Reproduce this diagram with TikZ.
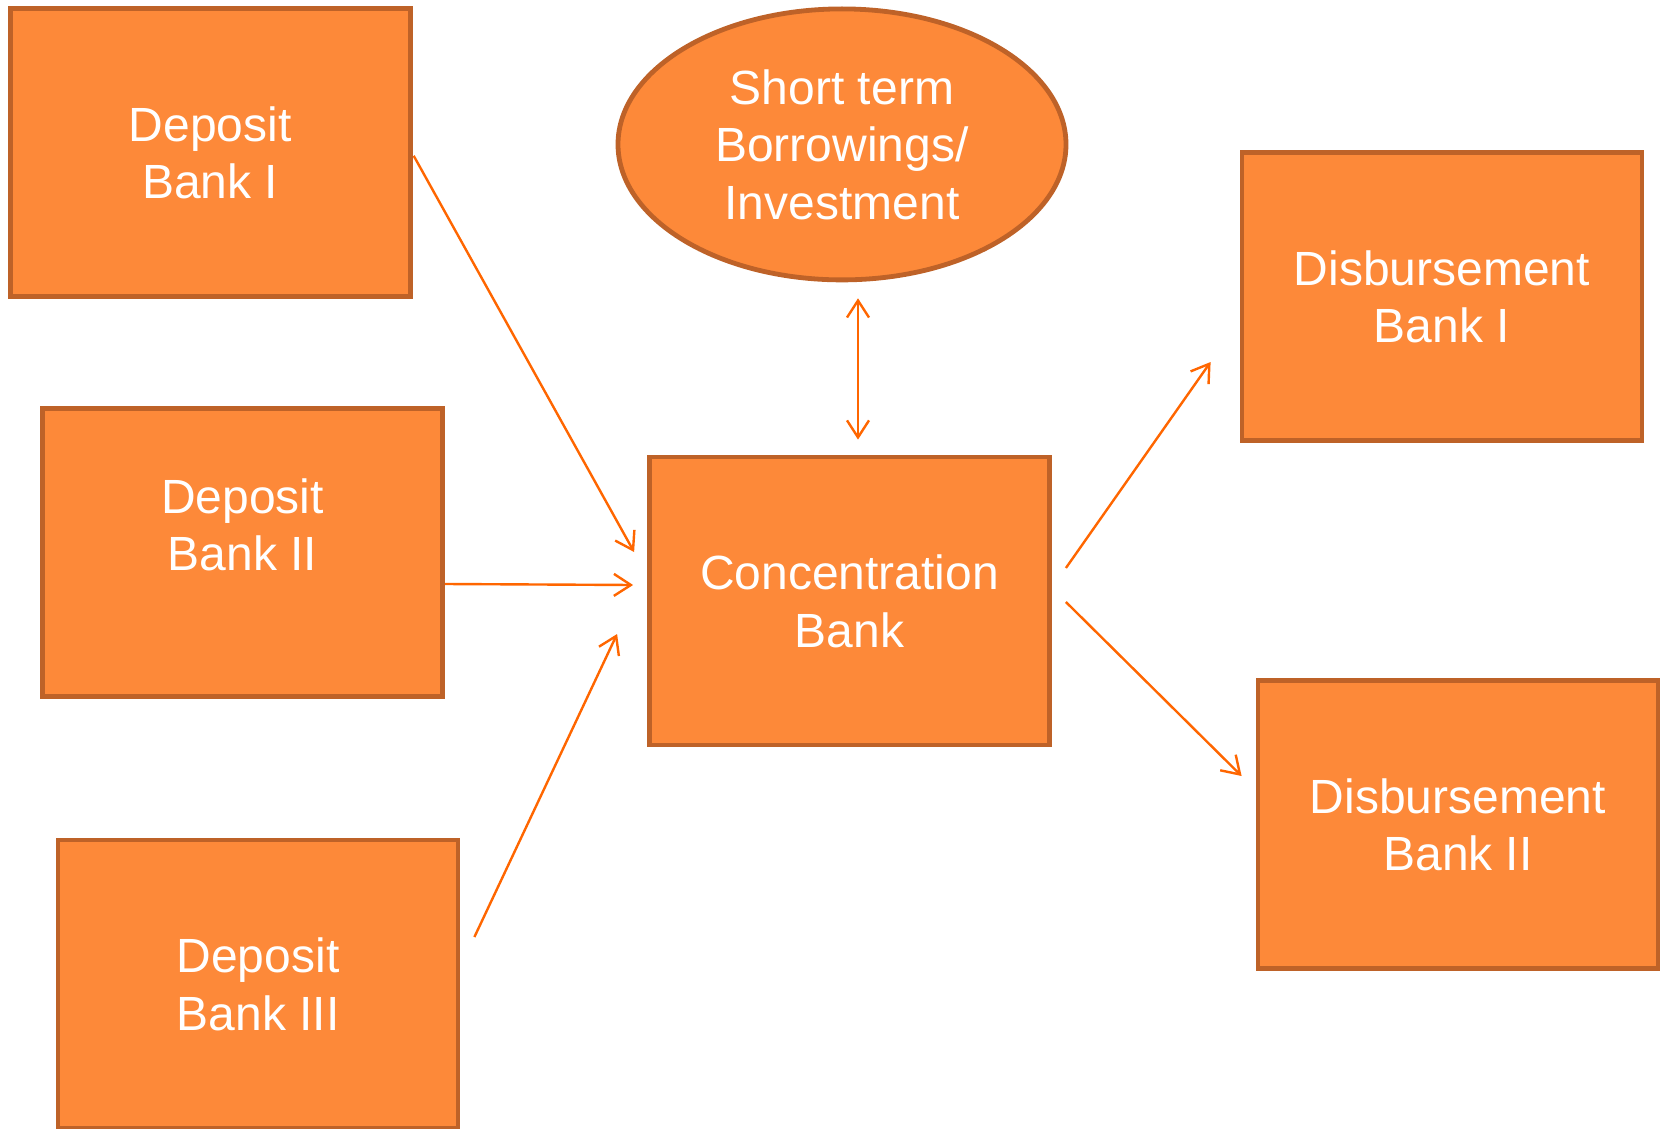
\documentclass[tikz,border=0pt]{standalone}
\usepackage{fontspec}
\setmainfont{Liberation Sans}
\usetikzlibrary{shapes.geometric,arrows.meta,calc}
\definecolor{boxfill}{RGB}{253,137,57}
\definecolor{boxline}{RGB}{190,98,40}
\definecolor{arrowcol}{RGB}{255,102,0}
\newcommand\mystrut{\rule[-11.5pt]{0pt}{57.5pt}}
\tikzset{
  bank/.style={draw=boxline, fill=boxfill, line width=4.8pt, rectangle,
    minimum width=400pt, minimum height=288pt, inner sep=0pt,
    text=white, align=center, font=\fontsize{48}{57.5}\selectfont},
  oval/.style={draw=boxline, fill=boxfill, line width=4.8pt, ellipse,
    minimum width=448pt, minimum height=271pt, inner sep=0pt,
    text=white, align=center, font=\fontsize{48}{57.5}\selectfont},
  banktext/.style={text=white, align=center, inner sep=0pt,
    font=\fontsize{48}{57.5}\selectfont},
  arr/.style={draw=arrowcol, line width=2.4pt,
    -{Straight Barb[length=17pt,width=22pt,line width=2.4pt]}},
  darr/.style={draw=arrowcol, line width=2.4pt,
    {Straight Barb[length=17pt,width=22pt,line width=2.4pt]}-{Straight Barb[length=17pt,width=22pt,line width=2.4pt]}}
}
\begin{document}
\begin{tikzpicture}[x=1pt,y=-1pt]
\useasboundingbox (0,0) rectangle (1665,1129);
\node[bank] (d1) at (210.3,152.8) {\mystrut Deposit\\\mystrut Bank I};
\node[bank] (d2) at (242.6,552.5) {};
\node[banktext] (d2t) at ($(d2.center)+(0,-27.6)$) {\mystrut Deposit\\\mystrut Bank II};
\node[bank] (d3) at (258,984) {\mystrut Deposit\\\mystrut Bank III};
\node[oval] (st) at (842,144.4) {\mystrut Short term\\\mystrut Borrowings/\\\mystrut Investment};
\node[bank] (conc) at (849.5,601) {\mystrut Concentration\\\mystrut Bank};
\node[bank] (b1) at (1442,296.5) {\mystrut Disbursement\\\mystrut Bank I};
\node[bank] (b2) at (1458,824.6) {\mystrut Disbursement\\\mystrut Bank II};

\draw[arr] ($(d1.east)+(1,3)$) -- ($(conc.west)+(-13,-49)$);
\draw[arr] ($(d2.east)+(0,31.5)$) -- ($(conc.west)+(-14,-16)$);
\draw[arr] ($(d3.east)+(14,-47)$) -- ($(conc.west)+(-30,33)$);
\draw[darr] ($(st.south)+(16,16)$) -- ($(conc.north)+(8.5,-15)$);
\draw[arr] ($(conc.east)+(14,-33)$) -- ($(b1.west)+(-29,65.5)$);
\draw[arr] ($(conc.east)+(14,1)$) -- ($(b2.west)+(-14,-48.6)$);
\end{tikzpicture}
\end{document}
